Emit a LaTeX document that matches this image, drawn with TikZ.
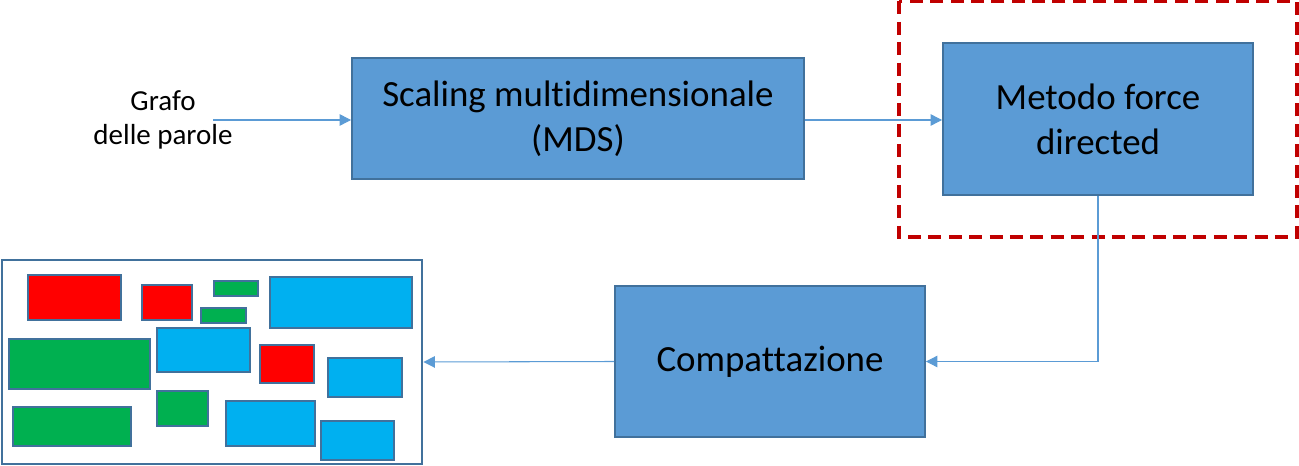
\documentclass[tikz,border=0pt]{standalone}
\usepackage{fontspec}
\setmainfont{Carlito}[Ligatures=NoCommon]
\usepackage{xcolor}
\usetikzlibrary{arrows.meta, positioning}
\definecolor{stepblue}{HTML}{5B9BD5}
\definecolor{stepedge}{HTML}{41719C}
\definecolor{wordred}{HTML}{FF0000}
\definecolor{wordgreen}{HTML}{00B050}
\definecolor{wordcyan}{HTML}{00B0F0}
\definecolor{focusred}{HTML}{C00000}

\begin{document}
\begin{tikzpicture}[x=0.02cm, y=-0.02cm,
  stepbox/.style={draw=stepedge, line width=1.1pt, fill=stepblue, align=center,
    font=\fontsize{21}{25.5}\selectfont},
  flow/.style={draw=stepblue, line width=0.6pt, -{Triangle[length=6.5pt, width=6.5pt]}},
  word/.style={draw=stepedge, line width=0.8pt}]
  \useasboundingbox (0,0) rectangle (1299,466);

  % pipeline
  \node[align=center, font=\fontsize{16.5}{19.3}\selectfont] (grafo) at (163,120) {Grafo\\delle parole};
  \coordinate (input) at (213,120);
  \node[stepbox, minimum width=9.04cm, minimum height=2.42cm] (mds) at (578,118.5) {Scaling multidimensionale\\(MDS)};
  \node[stepbox, minimum width=6.2cm, minimum height=3.04cm] (force) at (1098,119) {Metodo force\\directed};
  \node[stepbox, minimum width=6.2cm, minimum height=3.02cm] (compact) at (770,361.5) {Compattazione};
  \node[draw=stepedge, line width=1.1pt, minimum width=8.42cm, minimum height=4.08cm] (layout) at (212,362) {};

  % highlighted step
  \draw[focusred, line width=2.2pt, dash pattern=on 7.4pt off 4.2pt] (899,1.5) rectangle (1297,237);

  % arrows
  \draw[flow] (input) -- (mds.west |- input);
  \draw[flow] (mds.east |- input) -- (force.west |- input);
  \draw[flow] (force.south) |- (compact.east);
  \draw[flow] (compact.west) -- (layout.east);

  % words in the compacted layout
  \foreach \xa/\ya/\xb/\yb/\c in {
      28/275/121/320/wordred, 142/285/192/320/wordred, 214/281/258/296/wordgreen,
      201/308/246/323/wordgreen, 270/277/412/328/wordcyan, 9/339/150/389/wordgreen,
      157/328/250/372/wordcyan, 260/345/314/383/wordred, 328/358/402/397/wordcyan,
      13/407/131/446/wordgreen, 157/391/208/426/wordgreen, 226/401/315/446/wordcyan,
      321/421/394/460/wordcyan}
    \draw[word, fill=\c] (\xa,\ya) rectangle (\xb,\yb);
\end{tikzpicture}
\end{document}
